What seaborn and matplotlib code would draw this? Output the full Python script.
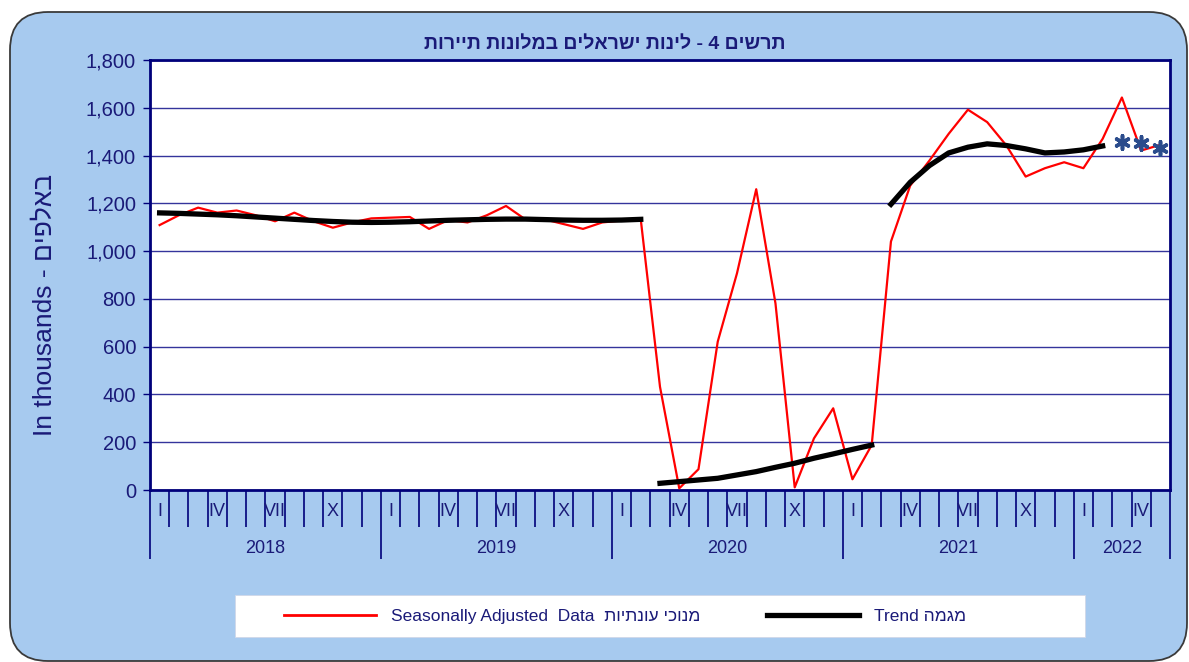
import matplotlib
matplotlib.use("Agg")
import matplotlib.pyplot as plt
import seaborn as sns
import numpy as np
import pandas as pd
from matplotlib.patches import FancyBboxPatch, Rectangle
from matplotlib.lines import Line2D
from matplotlib.transforms import IdentityTransform
from matplotlib.ticker import FuncFormatter

# ---------------- data ----------------
years = ["2018", "2019", "2020", "2021", "2022"]
months_per_year = [12, 12, 12, 12, 5]
month_labels = {0: "I", 3: "IV", 6: "VII", 9: "X"}

seasonally_adjusted = [
    1109, 1150, 1182, 1161, 1170, 1150, 1125, 1161, 1125, 1098, 1120, 1137,   # 2018
    1140, 1143, 1093, 1130, 1120, 1150, 1189, 1133, 1133, 1113, 1093, 1120,   # 2019
    1128, 1133, 432, 7, 87, 621, 907, 1259, 781, 11, 216, 342,                # 2020
    45, 188, 1040, 1274, 1379, 1491, 1592, 1540, 1442, 1312, 1347, 1372,      # 2021
    1347, 1470, 1643, 1421, 1445,                                             # 2022
]

trend_seg1 = [1160, 1158, 1155, 1152, 1148, 1143, 1138, 1133, 1128, 1124, 1121, 1120,
              1121, 1123, 1126, 1129, 1131, 1133, 1134, 1134, 1132, 1130, 1129, 1129,
              1130, 1133]                       # months 0-25
trend_seg2 = [28, 35, 42, 49, 63, 77, 95, 112, 133, 151, 170, 188]   # months 26-37
trend_seg3 = [1196, 1288, 1358, 1411, 1435, 1449, 1442, 1428, 1411, 1415, 1424, 1440]  # months 38-49
trend_provisional = [1456, 1451, 1430]         # months 50-52

yticks = list(range(0, 1801, 200))

title_he = "תרשים 4 - לינות ישראלים במלונות תיירות"
ylabel_txt = "In thousands - " + "באלפים"[::-1]
legend_sa = "Seasonally Adjusted  Data  " + "מנוכי עונתיות"[::-1]
legend_trend = "Trend " + "מגמה"[::-1]

# ---------------- build frames ----------------
n = len(seasonally_adjusted)
sa_df = pd.DataFrame({"m": np.arange(n) + 0.5, "v": seasonally_adjusted})
seg_starts = [0, 26, 38]
rows = []
for s, seg in zip(seg_starts, [trend_seg1, trend_seg2, trend_seg3]):
    for k, v in enumerate(seg):
        rows.append({"m": s + k + 0.5, "v": v, "seg": s})
trend_df = pd.DataFrame(rows)
prov_df = pd.DataFrame({"m": np.arange(50, 53) + 0.5, "v": trend_provisional})

# ---------------- style ----------------
plt.rcParams["font.family"] = ["Liberation Sans", "DejaVu Sans"]
NAVY = "#1a1a78"
SPINE = "#00007a"

fig = plt.figure(figsize=(11.89, 6.62), dpi=100)
fig.patch.set_facecolor("white")

bg = FancyBboxPatch((10, 1), 1177, 649, boxstyle="round,pad=0,rounding_size=38",
                    transform=IdentityTransform(), facecolor="#a7caef",
                    edgecolor="#3a3a3a", linewidth=1.3, zorder=-2)
fig.patches.append(bg)

ax = fig.add_axes([150 / 1189, 1 - 490 / 662, 1020 / 1189, 430 / 662])
ax.set_zorder(3)
ax.set_facecolor("white")

sns.lineplot(data=sa_df, x="m", y="v", ax=ax, color="#ff0000", linewidth=1.6,
             zorder=3, legend=False)
sns.lineplot(data=trend_df, x="m", y="v", units="seg", estimator=None, ax=ax,
             color="black", linewidth=3.8, zorder=4, legend=False)
sns.scatterplot(data=prov_df, x="m", y="v", ax=ax, marker=(6, 2, 0), s=95,
                color="#2b4c8c", linewidths=2.6, edgecolor="#2b4c8c", zorder=5,
                legend=False)

ax.set_xlim(0, n)
ax.set_ylim(0, 1800)
ax.set_yticks(yticks)
ax.yaxis.set_major_formatter(FuncFormatter(lambda v, p: f"{int(v):,}"))
ax.grid(axis="y", color="#34349c", linewidth=1.0)
ax.grid(axis="x", visible=False)
ax.set_axisbelow(True)
ax.set_xlabel("")
ax.set_ylabel("")

for sp in ax.spines.values():
    sp.set_color(SPINE)
    sp.set_linewidth(2)

ax.tick_params(axis="y", direction="out", length=5, width=1, color=SPINE,
               labelsize=14.5, labelcolor=NAVY, pad=5)

# x ticks: month boundaries (minor, short) and year boundaries (major, long)
year_bounds = np.concatenate([[0], np.cumsum(months_per_year)])
ax.set_xticks(year_bounds)
ax.set_xticks(np.arange(0, n + 1), minor=True)
ax.tick_params(axis="x", which="major", direction="out", length=50, width=1.2,
               color=SPINE, labelbottom=False)
ax.tick_params(axis="x", which="minor", direction="out", length=26.5, width=1.2,
               color=SPINE, labelbottom=False)

xt = ax.get_xaxis_transform()
for yi, (yr, nm) in enumerate(zip(years, months_per_year)):
    start = year_bounds[yi]
    for mi, lab in month_labels.items():
        if mi < nm:
            ax.text(start + mi + 0.5, -0.051, lab, transform=xt, ha="center",
                    va="center", fontsize=13, color=NAVY)
    ax.text(start + nm / 2, -0.135, yr, transform=xt, ha="center", va="center",
            fontsize=13, color=NAVY)

# title and y label
fig.text(605 / 1189, 1 - 44 / 662, title_he[::-1], ha="center", va="center",
         fontsize=14, fontweight="bold", color=NAVY)
fig.text(45 / 1189, 1 - 305 / 662, ylabel_txt, rotation=90, ha="center",
         va="center", fontsize=19, color=NAVY)

# legend box
fig.patches.append(Rectangle((235, 25), 850, 42, transform=IdentityTransform(),
                             facecolor="white", edgecolor="#d0d8e8", linewidth=0.6,
                             zorder=1))
handles = [Line2D([], [], color="#ff0000", linewidth=2),
           Line2D([], [], color="black", linewidth=3.8)]
leg = fig.legend(handles, [legend_sa, legend_trend], loc="center left",
                 bbox_to_anchor=(284 / 1189, 46 / 662), ncol=2, frameon=False,
                 fontsize=12.5, handlelength=5.3, handletextpad=0.86,
                 columnspacing=3.85, borderpad=0, borderaxespad=0)
leg.set_zorder(6)
for t in leg.get_texts():
    t.set_color(NAVY)

fig.savefig("out.png", dpi=100)
